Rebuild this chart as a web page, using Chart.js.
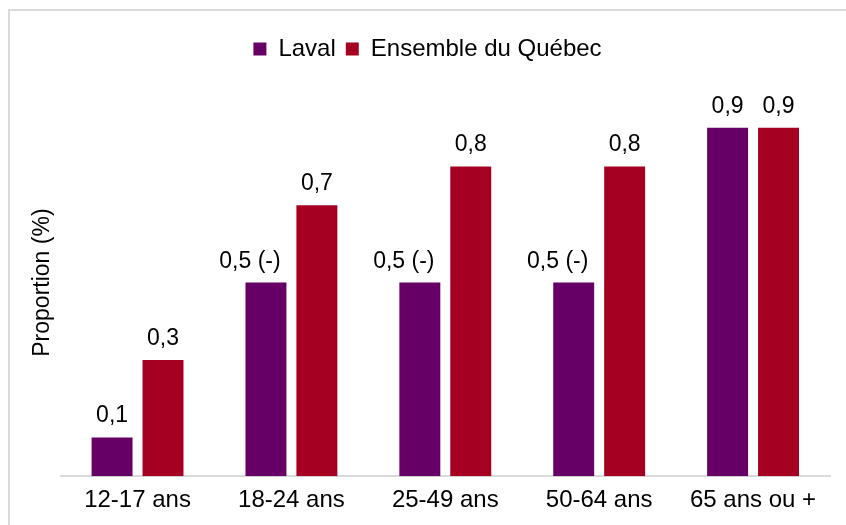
<!DOCTYPE html>
<html>
<head>
<meta charset="utf-8">
<script src="https://cdn.jsdelivr.net/npm/chart.js@4/dist/chart.umd.min.js"></script>
<style>
    html, body { margin: 0; padding: 0; background: #fff; }
    #wrap { position: relative; width: 846px; height: 525px; overflow: hidden; }
    #frame {
        position: absolute; left: 8px; top: 9px; width: 900px; height: 600px;
        border-left: 2px solid #d9d9d9; border-top: 2px solid #d9d9d9;
    }
    #chartBox { position: absolute; left: 0; top: 0; width: 846px; height: 525px; }
</style>
</head>
<body>
<div id="wrap">
    <div id="frame"></div>
    <div id="chartBox"><canvas id="proportionChart"></canvas></div>
</div>
<script>
// Data
const categories = ['12-17 ans', '18-24 ans', '25-49 ans', '50-64 ans', '65 ans ou +'];
const lavalValues = [0.1, 0.5, 0.5, 0.5, 0.9];
const quebecValues = [0.3, 0.7, 0.8, 0.8, 0.9];
// "(-)" marks the Laval values flagged in the source
const lavalFlags = ['', ' (-)', ' (-)', ' (-)', ''];
const quebecFlags = ['', '', '', '', ''];

const FONT = "'Liberation Sans', Arial, sans-serif";
const PURPLE = '#660066';
const RED = '#A50021';

// Value labels above the bars (no datalabels plugin available offline)
const barLabels = {
    id: 'barLabels',
    afterDatasetsDraw(chart) {
        const ctx = chart.ctx;
        ctx.save();
        ctx.font = '23px ' + FONT;
        ctx.fillStyle = '#000';
        ctx.textAlign = 'center';
        ctx.textBaseline = 'alphabetic';
        chart.data.datasets.forEach((ds, i) => {
            const meta = chart.getDatasetMeta(i);
            meta.data.forEach((bar, j) => {
                const flag = ds.flags[j];
                const text = ds.data[j].toFixed(1).replace('.', ',') + flag;
                const shift = flag ? -16 : 0;
                ctx.fillText(text, bar.x + shift, bar.y - 15);
            });
        });
        ctx.restore();
    }
};

// Extra room under the legend
const legendSpacing = {
    id: 'legendSpacing',
    beforeInit(chart) {
        const origFit = chart.legend.fit;
        chart.legend.fit = function () {
            origFit.bind(chart.legend)();
            this.height += 18;
        };
    }
};

const ctx = document.getElementById('proportionChart').getContext('2d');
const chart = new Chart(ctx, {
    type: 'bar',
    data: {
        labels: categories,
        datasets: [{
            label: 'Laval',
            data: lavalValues,
            flags: lavalFlags,
            backgroundColor: PURPLE,
            categoryPercentage: 0.662,
            barPercentage: 0.804
        }, {
            label: 'Ensemble du Québec',
            data: quebecValues,
            flags: quebecFlags,
            backgroundColor: RED,
            categoryPercentage: 0.662,
            barPercentage: 0.804
        }]
    },
    options: {
        responsive: true,
        maintainAspectRatio: false,
        animation: false,
        layout: {
            padding: { left: 25, right: 16, top: 27, bottom: 0 }
        },
        scales: {
            x: {
                grid: { display: false, drawTicks: false },
                border: { display: true, color: '#d9d9d9', width: 2 },
                ticks: {
                    color: '#000',
                    padding: 10,
                    font: { family: FONT, size: 24 }
                }
            },
            y: {
                min: 0,
                max: 1,
                grid: { display: false, drawTicks: false },
                border: { display: false },
                ticks: { display: false },
                title: {
                    display: true,
                    text: 'Proportion (%)',
                    color: '#000',
                    font: { family: FONT, size: 23 }
                }
            }
        },
        plugins: {
            legend: {
                position: 'top',
                labels: {
                    boxWidth: 13,
                    boxHeight: 13,
                    padding: 10,
                    color: '#000',
                    font: { family: FONT, size: 24 }
                }
            },
            tooltip: { enabled: false }
        }
    },
    plugins: [barLabels, legendSpacing]
});
</script>
</body>
</html>
